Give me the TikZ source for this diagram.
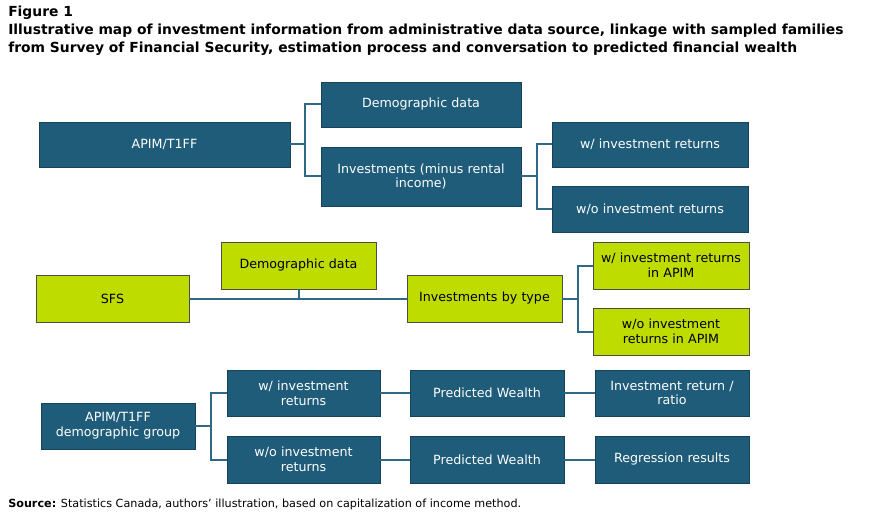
\documentclass[tikz,border=0pt]{standalone}
\usepackage{fontspec}
\setmainfont{DejaVu Sans}
\definecolor{dk}{HTML}{1F5C7A}
\definecolor{dkb}{HTML}{17435A}
\definecolor{lm}{HTML}{BFDC00}
\definecolor{ln}{HTML}{2E6A86}
\begin{document}
\begin{tikzpicture}[x=0.75pt,y=-0.75pt,
  dbox/.style={draw=dkb,fill=dk,text=white,align=center,font=\fontsize{9.5}{11}\selectfont,inner sep=0pt},
  lbox/.style={draw=black!70,fill=lm,text=black,align=center,font=\fontsize{9.5}{11}\selectfont,inner sep=0pt},
  conn/.style={draw=ln,line width=1.5pt}]
\useasboundingbox (0,0) rectangle (894,517);
\fill[white] (0,0) rectangle (894,517);
\node[anchor=north west,align=left,font=\bfseries\fontsize{10.4}{13.5}\selectfont,inner sep=0pt] (title) at (8,6) {Figure 1\\Illustrative map of investment information from administrative data source, linkage with sampled families\\from Survey of Financial Security, estimation process and conversation to predicted financial wealth};
\newcommand{\bx}[7]{\node[#1,minimum width={(#5-#3)*0.75pt},minimum height={(#6-#4)*0.75pt},text width={(#5-#3-8)*0.75pt}] (#2) at ({(#3+#5)/2},{(#4+#6)/2}) {#7};}
\bx{dbox}{a}{39}{122}{290}{167}{APIM/T1FF}
\bx{dbox}{b}{321}{82}{521}{127}{Demographic data}
\bx{dbox}{c}{321}{147}{521}{206}{Investments (minus rental\\income)}
\bx{dbox}{d}{552}{122}{748}{167}{w/ investment returns}
\bx{dbox}{e}{552}{186}{748}{232}{w/o investment returns}
\bx{lbox}{f}{36}{275}{189}{322}{SFS}
\bx{lbox}{g}{221}{242}{376}{289}{Demographic data}
\bx{lbox}{h}{407}{275}{562}{322}{Investments by type}
\bx{lbox}{i}{593}{242}{749}{289}{w/ investment returns\\in APIM}
\bx{lbox}{j}{593}{308}{749}{355}{w/o investment\\returns in APIM}
\bx{dbox}{k}{41}{403}{195}{449}{APIM/T1FF\\demographic group}
\bx{dbox}{l}{227}{370}{380}{416}{w/ investment\\returns}
\bx{dbox}{m}{227}{436}{380}{483}{w/o investment\\returns}
\bx{dbox}{n}{410}{370}{564}{416}{Predicted Wealth}
\bx{dbox}{o}{410}{436}{564}{483}{Predicted Wealth}
\bx{dbox}{p}{595}{370}{749}{416}{Investment return /\\ratio}
\bx{dbox}{q}{595}{436}{749}{483}{Regression results}
\draw[conn] (a.east) -- ++(15,0) coordinate (a1);
\draw[conn] (b.west) -| (a1) |- (c.west);
\draw[conn] (c.east) -- ++(16,0) coordinate (c1);
\draw[conn] (d.west) -| (c1) |- (e.west);
\draw[conn] (f.east) -- (h.west);
\draw[conn] (g.south) -- (g.south |- h.west);
\draw[conn] (h.east) -- ++(16,0) coordinate (h1);
\draw[conn] (i.west) -| (h1) |- (j.west);
\draw[conn] (k.east) -- ++(16,0) coordinate (k1);
\draw[conn] (l.west) -| (k1) |- (m.west);
\draw[conn] (l) -- (n); \draw[conn] (n) -- (p);
\draw[conn] (m) -- (o); \draw[conn] (o) -- (q);
\node[anchor=west,inner sep=0pt,font=\fontsize{8.4}{10}\selectfont] (src) at (8,504) {\textbf{Source:} Statistics Canada, authors' illustration, based on capitalization of income method.};
\end{tikzpicture}
\end{document}
